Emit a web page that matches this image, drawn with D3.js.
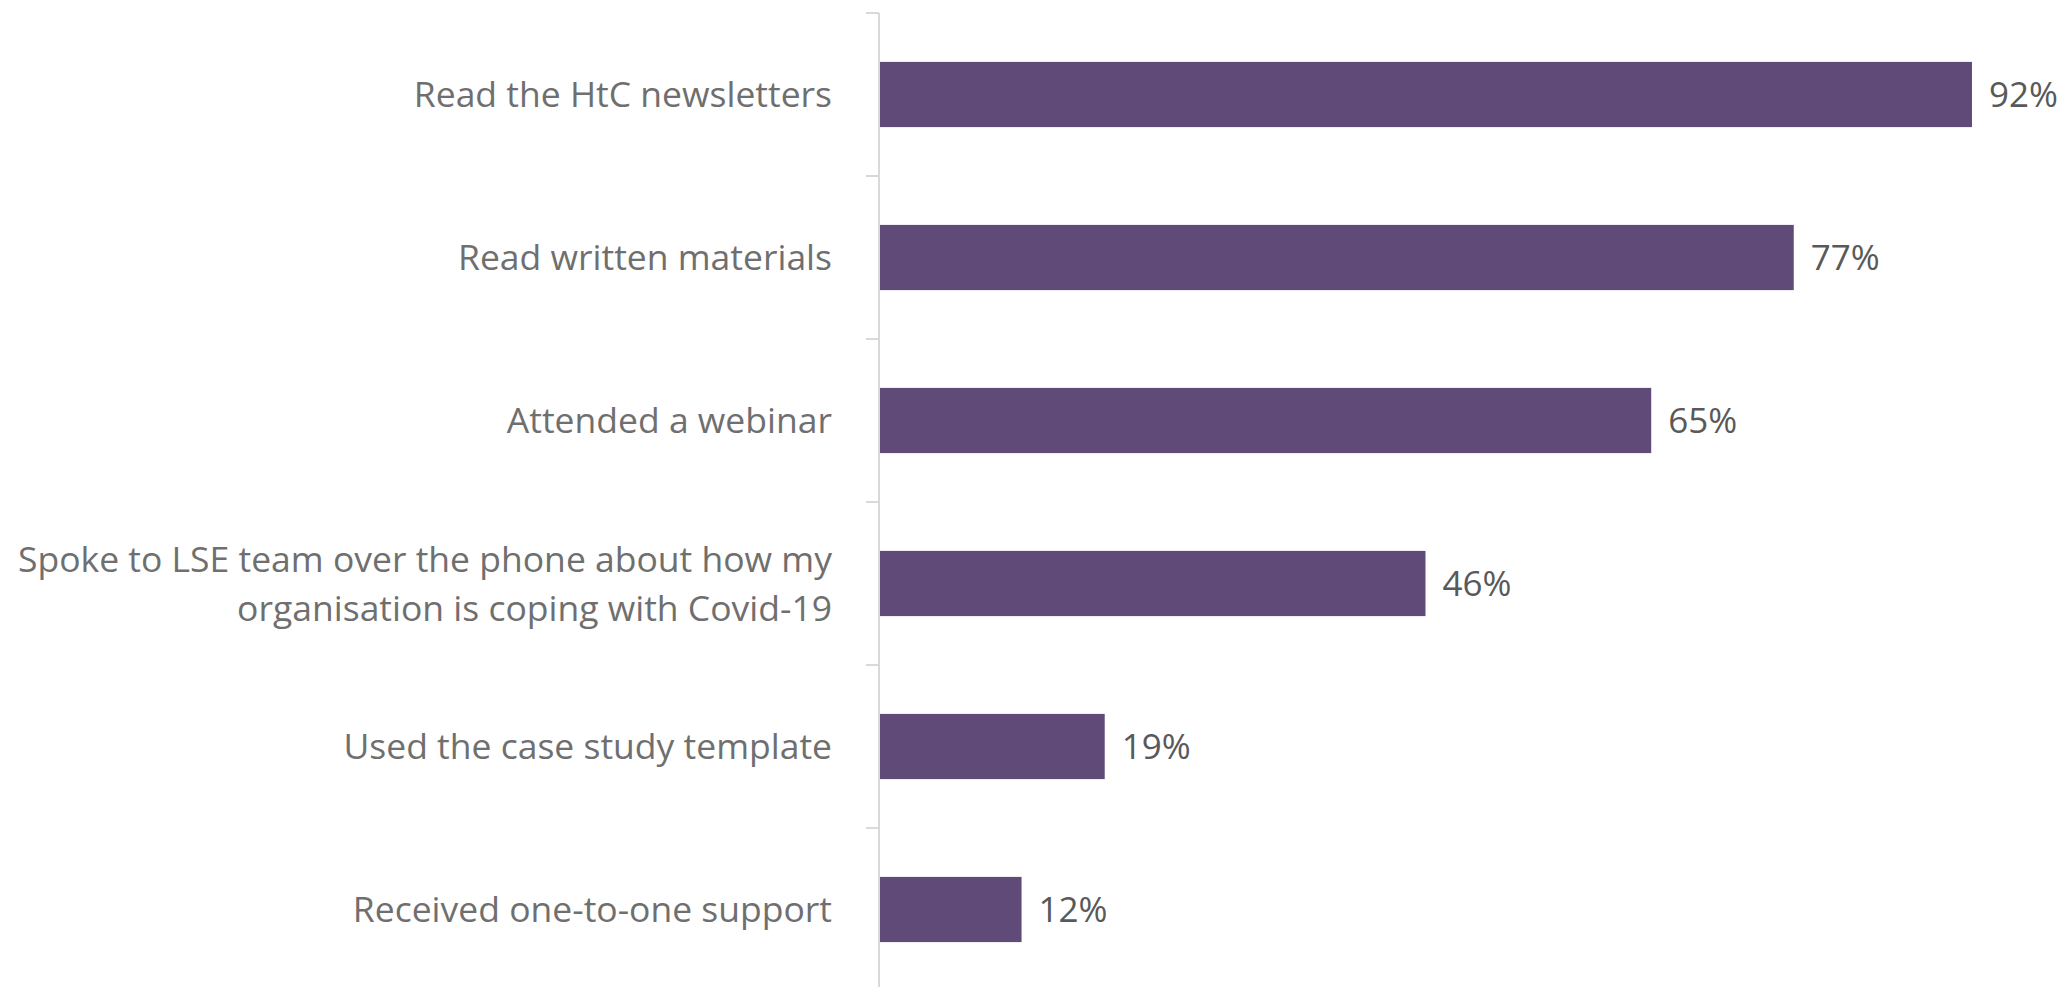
<!DOCTYPE html>
<html>
<head>
<meta charset="utf-8">
<script src="https://cdn.jsdelivr.net/npm/d3@7"></script>
<style>
  body { margin: 0; background: #fff; }
  svg { display: block; }
  text { font-family: "Open Sans", "Noto Sans", sans-serif; }
</style>
</head>
<body>
<div id="chart"></div>
<script>
// data
const categories = [
    ["Read the HtC newsletters"],
    ["Read written materials"],
    ["Attended a webinar"],
    ["Spoke to LSE team over the phone about how my", "organisation is coping with Covid-19"],
    ["Used the case study template"],
    ["Received one-to-one support"]
];
const values = [92, 77, 65, 46, 19, 12];
const valueLabels = ["92%", "77%", "65%", "46%", "19%", "12%"];

const width = 2062, height = 987;
const axisX = 879;

const svg = d3.select("#chart")
    .append("svg")
    .attr("width", width)
    .attr("height", height);

const idx = d3.range(values.length);

// scales
const xScale = d3.scaleLinear()
    .domain([0, 100])
    .range([axisX, axisX + 1188]);

const yScale = d3.scaleBand()
    .domain(idx)
    .range([13, 13 + 163 * values.length])
    .paddingInner(0.6)
    .paddingOuter(0.3);

const step = yScale.step();
const bandTop = i => yScale.range()[0] + step * i;

// axis line + tick marks at band boundaries
svg.append("line")
    .attr("x1", axisX).attr("x2", axisX)
    .attr("y1", yScale.range()[0]).attr("y2", height)
    .style("stroke", "#d9d9d9")
    .style("stroke-width", 2);

svg.selectAll("line.tick")
    .data(d3.range(values.length + 1))
    .enter()
    .append("line")
    .attr("class", "tick")
    .attr("x1", axisX - 13).attr("x2", axisX)
    .attr("y1", d => bandTop(d)).attr("y2", d => bandTop(d))
    .style("stroke", "#d9d9d9")
    .style("stroke-width", 2);

// bars
svg.selectAll("rect.bar")
    .data(idx)
    .enter()
    .append("rect")
    .attr("class", "bar")
    .attr("x", xScale(0) + 1)
    .attr("y", i => yScale(i))
    .attr("width", i => xScale(values[i]) - xScale(0) - 1)
    .attr("height", yScale.bandwidth())
    .style("fill", "#604b78");

// value labels
svg.selectAll("text.value")
    .data(idx)
    .enter()
    .append("text")
    .attr("class", "value")
    .attr("x", i => xScale(values[i]) + 17)
    .attr("y", i => yScale(i) + yScale.bandwidth() / 2)
    .attr("dy", "0.36em")
    .style("font-size", "35px")
    .style("fill", "#595959")
    .text(i => valueLabels[i]);

// category labels
const catText = svg.selectAll("text.cat")
    .data(idx)
    .enter()
    .append("text")
    .attr("class", "cat")
    .attr("text-anchor", "end")
    .attr("y", i => yScale(i) + yScale.bandwidth() / 2)
    .style("font-size", "35.5px")
    .style("fill", "#6f6f6f");

catText.each(function (i) {
    const lines = categories[i];
    const lh = 1.38;
    d3.select(this).selectAll("tspan")
        .data(lines)
        .enter()
        .append("tspan")
        .attr("x", 832)
        .attr("dy", (d, k) => k === 0 ? (0.36 - (lines.length - 1) * lh / 2) + "em" : lh + "em")
        .text(d => d);
});
</script>
</body>
</html>
